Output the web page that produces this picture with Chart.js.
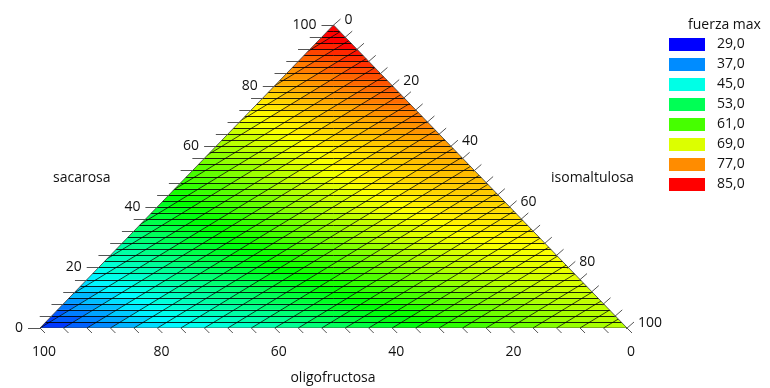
<!DOCTYPE html>
<html>
<head>
<meta charset="utf-8">
<script src="https://cdn.jsdelivr.net/npm/chart.js@4.4.1/dist/chart.umd.min.js"></script>
<style>
  html, body { margin: 0; padding: 0; background: #fff; }
  #wrap { width: 770px; height: 388px; }
</style>
</head>
<body>
<div id="wrap"><canvas id="myChart" width="770" height="388"></canvas></div>
<script>
const sacarosaNiveles = [0, 10, 20, 30, 40, 50, 60, 70, 80, 90, 100];
const fuerzaS0   = [30, 36, 42, 45, 48, 52, 55, 59, 62, 65, 67];
const fuerzaS10  = [38, 43, 47.5, 51, 54.5, 58, 61, 64, 66.5, 68];
const fuerzaS20  = [45, 49, 53, 57, 60.5, 64, 67, 69, 70];
const fuerzaS30  = [50, 54.5, 58.5, 62.5, 66, 69, 71, 71.5];
const fuerzaS40  = [55, 59.5, 63.5, 67.5, 70.5, 72.5, 73];
const fuerzaS50  = [60.5, 64.5, 68.5, 71.5, 73.5, 74.5];
const fuerzaS60  = [65.5, 69, 72, 74, 76];
const fuerzaS70  = [70, 73, 75.5, 78];
const fuerzaS80  = [74, 77, 80];
const fuerzaS90  = [79.5, 83.5];
const fuerzaS100 = [88];
const filasFuerza = [fuerzaS0, fuerzaS10, fuerzaS20, fuerzaS30, fuerzaS40, fuerzaS50,
                     fuerzaS60, fuerzaS70, fuerzaS80, fuerzaS90, fuerzaS100];

// leyenda
const leyendaValores = [29, 37, 45, 53, 61, 69, 77, 85];
const leyendaColores = [[0,0,255],[0,140,255],[0,255,230],[0,255,85],
                        [70,255,0],[220,255,0],[255,140,0],[255,0,0]];
const leyendaTitulo = 'fuerza max';

const tickLabels = ['0', '20', '40', '60', '80', '100'];
const nombresEjes = ['sacarosa', 'isomaltulosa', 'oligofructosa'];

const FONT = '14px "Open Sans", "Liberation Sans", sans-serif';

function tono(c) {
  const r = c[0] / 255, g = c[1] / 255, b = c[2] / 255;
  const mx = Math.max(r, g, b), mn = Math.min(r, g, b), d = mx - mn;
  if (d === 0) return 0;
  let h;
  if (mx === r) h = ((g - b) / d) % 6;
  else if (mx === g) h = (b - r) / d + 2;
  else h = (r - g) / d + 4;
  h *= 60;
  return h < 0 ? h + 360 : h;
}
const leyendaTonos = leyendaColores.map(tono);

function rgbDeTono(h) {
  const x = 1 - Math.abs((h / 60) % 2 - 1);
  let c;
  if (h < 60) c = [1, x, 0];
  else if (h < 120) c = [x, 1, 0];
  else if (h < 180) c = [0, 1, x];
  else c = [0, x, 1];
  return 'rgb(' + c.map(u => Math.round(u * 255)).join(',') + ')';
}

// color por tono entre los niveles de la leyenda
function colorDe(v) {
  const n = leyendaValores.length;
  if (v <= leyendaValores[0]) return rgbDeTono(leyendaTonos[0]);
  if (v >= leyendaValores[n - 1]) return rgbDeTono(leyendaTonos[n - 1]);
  let k = 0;
  while (v > leyendaValores[k + 1]) k++;
  const t = (v - leyendaValores[k]) / (leyendaValores[k + 1] - leyendaValores[k]);
  return rgbDeTono(leyendaTonos[k] + (leyendaTonos[k + 1] - leyendaTonos[k]) * t);
}

function nodo(i, j) { return filasFuerza[i][j]; }

// valor en (sacarosa, isomaltulosa) a partir de la malla leida
function valorEn(S, I) {
  S = Math.max(0, Math.min(1, S));
  I = Math.max(0, Math.min(1 - S, I));
  const a = S * 10, b = I * 10;
  const i = Math.min(Math.floor(a), 9);
  const j = Math.max(0, Math.min(Math.floor(b), 9 - i));
  const fa = a - i, fb = b - j;
  if (fa + fb <= 1 + 1e-9) {
    return nodo(i, j) + fa * (nodo(i + 1, j) - nodo(i, j)) + fb * (nodo(i, j + 1) - nodo(i, j));
  }
  const c = nodo(i + 1, j + 1);
  return c + (1 - fa) * (nodo(i, j + 1) - c) + (1 - fb) * (nodo(i + 1, j) - c);
}

// composicion -> coordenada cartesiana del triangulo
function cart(S, I) { return { x: I + S / 2, y: S }; }

const esquinas = [cart(0, 0), cart(0, 1), cart(1, 0), cart(0, 0)];

const PASO_FILA = 0.02;   // lineas horizontales
const PASO_DIAG = 0.04;   // lineas inclinadas
const K_DIAG = 0.85;

const mallaPlugin = {
  id: 'malla',
  beforeDatasetsDraw(chart) {
    const ctx = chart.ctx;
    const xs = chart.scales.x, ys = chart.scales.y;
    const P = (x, y) => [xs.getPixelForValue(x), ys.getPixelForValue(y)];
    ctx.save();
    ctx.beginPath();
    esquinas.forEach((p, n) => {
      const q = P(p.x, p.y);
      if (n === 0) ctx.moveTo(q[0], q[1]); else ctx.lineTo(q[0], q[1]);
    });
    ctx.closePath();
    ctx.clip();

    const filas = Math.round(1 / PASO_FILA);
    const jMin = Math.floor(-K_DIAG / PASO_DIAG) - 1;
    const jMax = Math.ceil(1 / PASO_DIAG) + 1;
    for (let r = 0; r < filas; r++) {
      const s0 = r * PASO_FILA, s1 = s0 + PASO_FILA;
      for (let j = jMin; j < jMax; j++) {
        const c0 = j * PASO_DIAG, c1 = c0 + PASO_DIAG;
        const sm = (s0 + s1) / 2;
        const xm = (c0 + c1) / 2 + K_DIAG * sm;
        if (xm < -0.1 || xm > 1.1) continue;
        const v = valorEn(sm, xm - sm / 2);
        const pts = [P(c0 + K_DIAG * s0, s0), P(c1 + K_DIAG * s0, s0),
                     P(c1 + K_DIAG * s1, s1), P(c0 + K_DIAG * s1, s1)];
        ctx.beginPath();
        pts.forEach((q, n) => { if (n === 0) ctx.moveTo(q[0], q[1]); else ctx.lineTo(q[0], q[1]); });
        ctx.closePath();
        ctx.fillStyle = colorDe(v);
        ctx.fill();
        ctx.strokeStyle = ctx.fillStyle;
        ctx.lineWidth = 0.6;
        ctx.stroke();
      }
    }

    // lineas de la malla (horizontales nitidas)
    ctx.strokeStyle = 'rgba(0,0,0,0.85)';
    ctx.lineWidth = 1;
    ctx.beginPath();
    for (let r = 1; r < filas; r++) {
      const s = r * PASO_FILA;
      const a = P(0, s), b = P(1, s);
      const y = Math.round(a[1]) + 0.5;
      ctx.moveTo(a[0], y); ctx.lineTo(b[0], y);
    }
    ctx.stroke();
    ctx.strokeStyle = 'rgba(0,0,0,0.75)';
    ctx.beginPath();
    for (let j = jMin; j < jMax; j++) {
      const c = j * PASO_DIAG;
      const a = P(c, 0), b = P(c + K_DIAG, 1);
      ctx.moveTo(a[0], a[1]); ctx.lineTo(b[0], b[1]);
    }
    ctx.stroke();
    ctx.restore();
  },
  afterDraw(chart) {
    const ctx = chart.ctx;
    const xs = chart.scales.x, ys = chart.scales.y;
    const P = (x, y) => [xs.getPixelForValue(x), ys.getPixelForValue(y)];
    ctx.save();
    ctx.strokeStyle = '#555';
    ctx.lineWidth = 1;
    ctx.beginPath();
    for (let n = 0; n <= 25; n++) {
      const f = n * 0.04;
      // sacarosa (izquierda)
      let q = P(cart(f, 0).x, cart(f, 0).y);
      const yl = Math.round(q[1]) + 0.5;
      ctx.moveTo(q[0] - 12, yl); ctx.lineTo(q[0], yl);
      // isomaltulosa (derecha)
      q = P(cart(1 - f, f).x, cart(1 - f, f).y);
      ctx.moveTo(q[0] - 1, q[1] + 1); ctx.lineTo(q[0] + 7, q[1] - 6);
      // oligofructosa (abajo)
      q = P(cart(0, 1 - f).x, 0);
      ctx.moveTo(q[0], q[1]); ctx.lineTo(q[0] + 5, q[1] + 5);
    }
    ctx.stroke();

    ctx.fillStyle = '#111';
    ctx.font = FONT;
    ctx.textBaseline = 'middle';
    tickLabels.forEach((lab, n) => {
      const f = n * 0.2;
      let q = P(cart(f, 0).x, cart(f, 0).y);
      ctx.textAlign = 'right';
      ctx.fillText(lab, q[0] - 17, q[1]);
      q = P(cart(1 - f, f).x, cart(1 - f, f).y);
      ctx.textAlign = 'left';
      ctx.fillText(lab, q[0] + 11, q[1] - 5);
      q = P(cart(0, 1 - f).x, 0);
      ctx.textAlign = 'center';
      ctx.fillText(lab, q[0] + 4, q[1] + 24);
    });

    ctx.textAlign = 'left';
    ctx.fillText(nombresEjes[0], 53, 178);
    ctx.fillText(nombresEjes[1], 551, 178);
    ctx.textAlign = 'center';
    ctx.fillText(nombresEjes[2], 333, 378);

    // leyenda
    ctx.textAlign = 'left';
    ctx.fillText(leyendaTitulo, 688, 25);
    leyendaValores.forEach((v, n) => {
      const y = 44 + n * 20;
      ctx.fillStyle = 'rgb(' + leyendaColores[n].join(',') + ')';
      ctx.fillRect(669, y - 6, 36, 13);
      ctx.fillStyle = '#111';
      ctx.fillText(v.toFixed(1).replace('.', ','), 717, y);
    });
    ctx.restore();
  }
};

new Chart(document.getElementById('myChart'), {
  type: 'scatter',
  data: {
    datasets: [{
      label: 'borde',
      data: esquinas,
      showLine: true,
      borderColor: 'rgba(60,60,60,0.8)',
      borderWidth: 1,
      pointRadius: 0,
      fill: false
    }]
  },
  options: {
    responsive: false,
    animation: false,
    layout: { padding: { left: 40, right: 143, top: 25, bottom: 60 } },
    scales: {
      x: { type: 'linear', min: 0, max: 1, display: false },
      y: { type: 'linear', min: 0, max: 1, display: false }
    },
    plugins: { legend: { display: false }, tooltip: { enabled: false } }
  },
  plugins: [mallaPlugin]
});
</script>
</body>
</html>
